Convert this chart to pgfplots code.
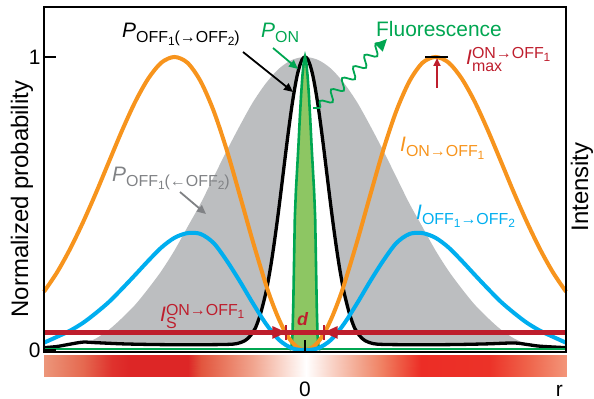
\documentclass[border=0pt]{standalone}
\usepackage{fontspec}
\setmainfont{Liberation Sans}
\usepackage{pgfplots}
\pgfplotsset{compat=1.18}
\usetikzlibrary{arrows.meta,decorations.pathmorphing}

\definecolor{cOrange}{RGB}{247,148,29}
\definecolor{cBlue}{RGB}{0,174,239}
\definecolor{cRed}{RGB}{190,30,45}
\definecolor{cGreen}{RGB}{0,166,81}
\definecolor{cLGreen}{RGB}{141,198,99}
\definecolor{cGray}{RGB}{188,190,192}
\definecolor{cGrayText}{RGB}{128,130,133}

\newcommand{\bigf}{\fontsize{21}{21}\selectfont}
\newcommand{\subf}{\fontsize{16}{16}\selectfont}
\newcommand{\ssubf}{\fontsize{12}{12}\selectfont}
\newcommand{\lo}[1]{\raisebox{-5bp}{\subf #1}}
\newcommand{\llo}[1]{\raisebox{-3bp}{\ssubf #1}}
\newcommand{\supsub}[2]{\rlap{\raisebox{-6.5bp}{\subf #2}}\raisebox{6bp}{\subf #1}}

\pgfplotstableread{
x y
-1.000 0.199
-0.950 0.265
-0.900 0.345
-0.850 0.437
-0.800 0.538
-0.750 0.645
-0.700 0.751
-0.650 0.848
-0.600 0.927
-0.550 0.981
-0.500 1.000
-0.450 0.980
-0.400 0.917
-0.350 0.816
-0.300 0.683
-0.250 0.529
-0.200 0.371
-0.150 0.224
-0.125 0.160
-0.100 0.105
-0.075 0.060
-0.050 0.027
-0.025 0.007
0.000 0.000
0.025 0.007
0.050 0.027
0.075 0.060
0.100 0.105
0.125 0.160
0.150 0.224
0.200 0.371
0.250 0.529
0.300 0.683
0.350 0.816
0.400 0.917
0.450 0.980
0.500 1.000
0.550 0.981
0.600 0.927
0.650 0.848
0.700 0.751
0.750 0.645
0.800 0.538
0.850 0.437
0.900 0.345
0.950 0.265
1.000 0.199
}\orange

\pgfplotstableread{
x y
-1.00 0.025
-0.95 0.045
-0.90 0.066
-0.85 0.093
-0.80 0.127
-0.75 0.165
-0.70 0.210
-0.65 0.257
-0.60 0.305
-0.55 0.350
-0.50 0.383
-0.45 0.399
-0.40 0.396
-0.35 0.365
-0.30 0.305
-0.25 0.235
-0.20 0.160
-0.15 0.090
-0.10 0.035
-0.05 0.006
0.00 0.000
0.05 0.006
0.10 0.035
0.15 0.090
0.20 0.160
0.25 0.235
0.30 0.305
0.35 0.365
0.40 0.396
0.45 0.399
0.50 0.383
0.55 0.350
0.60 0.305
0.65 0.257
0.70 0.210
0.75 0.165
0.80 0.127
0.85 0.093
0.90 0.066
0.95 0.045
1.00 0.025
}\blue

\pgfplotstableread{
x y
-1.00 0.000
-0.95 0.005
-0.90 0.010
-0.85 0.020
-0.80 0.040
-0.75 0.070
-0.70 0.110
-0.65 0.155
-0.60 0.210
-0.55 0.270
-0.50 0.340
-0.45 0.420
-0.40 0.500
-0.35 0.590
-0.30 0.680
-0.25 0.765
-0.20 0.845
-0.15 0.910
-0.10 0.960
-0.05 0.990
0.00 1.000
0.05 0.990
0.10 0.960
0.15 0.910
0.20 0.845
0.25 0.765
0.30 0.680
0.35 0.590
0.40 0.500
0.45 0.420
0.50 0.340
0.55 0.270
0.60 0.210
0.65 0.155
0.70 0.110
0.75 0.070
0.80 0.040
0.85 0.020
0.90 0.010
0.95 0.005
1.00 0.000
}\gray

\pgfplotstableread{
x y
-1.00 0.008
-0.95 0.012
-0.90 0.020
-0.85 0.027
-0.80 0.025
-0.70 0.021
-0.60 0.019
-0.50 0.018
-0.40 0.018
-0.30 0.019
-0.26 0.022
-0.23 0.032
-0.21 0.048
-0.19 0.075
-0.17 0.125
-0.15 0.195
-0.14 0.241
-0.13 0.293
-0.12 0.352
-0.11 0.416
-0.10 0.484
-0.09 0.556
-0.08 0.629
-0.07 0.701
-0.06 0.770
-0.05 0.834
-0.04 0.890
-0.03 0.937
-0.02 0.971
-0.01 0.993
0.00 1.000
0.01 0.993
0.02 0.971
0.03 0.937
0.04 0.890
0.05 0.834
0.06 0.770
0.07 0.701
0.08 0.629
0.09 0.556
0.10 0.484
0.11 0.416
0.12 0.352
0.13 0.293
0.14 0.241
0.15 0.195
0.17 0.125
0.19 0.075
0.21 0.048
0.23 0.032
0.26 0.022
0.30 0.019
0.40 0.018
0.50 0.018
0.60 0.019
0.70 0.021
0.80 0.024
0.85 0.019
0.90 0.013
1.00 0.008
}\black

\pgfplotstableread{
x y
-0.060 0.000
-0.052 0.012
-0.048 0.050
-0.045 0.150
-0.042 0.300
-0.039 0.450
-0.035 0.540
-0.030 0.620
-0.025 0.700
-0.020 0.790
-0.015 0.870
-0.010 0.935
-0.005 0.980
0.000 1.000
0.005 0.980
0.010 0.935
0.015 0.870
0.020 0.790
0.025 0.700
0.030 0.620
0.035 0.540
0.039 0.450
0.042 0.300
0.045 0.150
0.048 0.050
0.052 0.012
0.060 0.000
}\pon

\pgfplotstableread{
x y z
-1.00 0 0
-0.85 0 0
-0.74 0 0
-0.67 0 0
-0.45 0 0
-0.40 0 0
-0.30 0 0
-0.20 0 0
-0.10 0 0
0.00 0 0
0.10 0 0
0.20 0 0
0.29 0 0
0.36 0 0
0.44 0 0
0.70 0 0
0.85 0 0
1.00 0 0
-1.00 1 0
-0.85 1 0
-0.74 1 0
-0.67 1 0
-0.45 1 0
-0.40 1 0
-0.30 1 0
-0.20 1 0
-0.10 1 0
0.00 1 0
0.10 1 0
0.20 1 0
0.29 1 0
0.36 1 0
0.44 1 0
0.70 1 0
0.85 1 0
1.00 1 0
}\cbar

\begin{document}
\begin{tikzpicture}
\useasboundingbox (0bp,0bp) rectangle (594bp,399bp);
\begin{axis}[
  at={(44bp,47bp)}, anchor=south west,
  width=522bp, height=345bp, scale only axis,
  xmin=-1, xmax=1, ymin=-0.0068, ymax=1.1706,
  axis on top,
  axis line style={line width=1.6bp},
  xtick={0}, ytick={0,1},
  tick align=inside, xtick pos=bottom, ytick pos=left,
  major tick length=12bp,
  tick style={line width=1.6bp, black},
  /pgf/number format/assume math mode=true,
  ticklabel style={font=\fontsize{21}{21}\selectfont},
  xticklabel style={anchor=base, yshift=-44bp},
  extra x ticks={0.975}, extra x tick labels={r},
  extra x tick style={major tick length=0pt},
  clip=false,
]
\addplot[fill=cGray, draw=none, smooth] table {\gray} \closedcycle;
\addplot[fill=white, draw=none, smooth] table {\black} \closedcycle;
\addplot[black, line width=3.3bp, smooth] table {\black};
\addplot[fill=cLGreen, draw=none] table {\pon} \closedcycle;
\addplot[cGreen, line width=2.2bp] coordinates {(-1,0.003) (-0.06,0.003)};
\addplot[cGreen, line width=2.2bp] coordinates {(0.06,0.003) (1,0.003)};
\addplot[cGreen, line width=2.6bp] table {\pon};
\addplot[cOrange, line width=4bp, smooth] table {\orange};
\addplot[cBlue, line width=4bp, smooth] table {\blue};
\addplot[cRed, line width=4.5bp] coordinates {(-1,0.06) (1,0.06)};
% d marker
\draw[cRed, line width=2.5bp] (axis cs:-0.072,0.035) -- (axis cs:-0.072,0.085);
\draw[cRed, line width=2.5bp] (axis cs:0.072,0.035) -- (axis cs:0.072,0.085);
\fill[cRed] (axis cs:-0.125,0.082) -- (axis cs:-0.072,0.06) -- (axis cs:-0.125,0.038) -- cycle;
\fill[cRed] (axis cs:0.125,0.082) -- (axis cs:0.072,0.06) -- (axis cs:0.125,0.038) -- cycle;
% I max marker
\draw[black, line width=2.2bp] (axis cs:0.46,1) -- (axis cs:0.548,1);
\end{axis}
\begin{axis}[
  at={(44bp,22bp)}, anchor=south west,
  width=523bp, height=22bp, scale only axis, hide axis,
  xmin=-1, xmax=1, ymin=0, ymax=1, zmin=-1, zmax=1, view={0}{90},
  colormap={cb}{rgb255(0cm)=(236,150,122) rgb255(1.5cm)=(229,105,80)
    rgb255(2.6cm)=(223,50,45) rgb255(3.3cm)=(221,38,38) rgb255(5.5cm)=(221,38,38)
    rgb255(6cm)=(226,85,62) rgb255(7cm)=(234,125,100) rgb255(8cm)=(241,165,143)
    rgb255(9cm)=(249,210,198) rgb255(10cm)=(255,255,255) rgb255(11cm)=(249,210,198)
    rgb255(12cm)=(243,168,145) rgb255(12.9cm)=(240,130,100) rgb255(13.6cm)=(238,90,68)
    rgb255(14.4cm)=(236,45,38) rgb255(17cm)=(236,50,40) rgb255(18.5cm)=(239,100,75)
    rgb255(20cm)=(243,150,122)},
  point meta min=-1, point meta max=1,
]
\addplot3[surf, shader=interp, point meta=x, mesh/rows=2, mesh/cols=18] table {\cbar};
\end{axis}
% labels
\node[anchor=base west, inner sep=0] at (122bp,361bp) {\bigf\textit{P}\lo{OFF\llo{1}(→OFF\llo{2})}};
\draw[black, line width=1.8bp, -{Triangle[length=9bp,width=8bp]}] (243bp,347bp) -- (293bp,307bp);
\node[anchor=base west, inner sep=0, text=cGreen] at (261bp,361bp) {\bigf\textit{P}\lo{ON}};
\draw[cGreen, line width=1.8bp, -{Triangle[length=9bp,width=8bp]}] (273bp,351bp) -- (298bp,330bp);
\node[anchor=base west, inner sep=0, text=cGreen] at (376bp,362bp) {\bigf Fluorescence};
\draw[cGreen, line width=1.8bp] (313bp,291bp) -- (320bp,291bp);
\draw[cGreen, line width=1.8bp, decorate, decoration={snake, amplitude=5bp, segment length=16bp, post length=6bp}, -{Triangle[length=12bp,width=11bp]}] (320bp,291bp) -- (387bp,360bp);
\node[anchor=base west, inner sep=0, text=cRed] at (466bp,334bp) {\bigf\textit{I}\supsub{ON→OFF\llo{1}}{max}};
\draw[cRed, line width=2bp, -{Triangle[length=8bp,width=7bp]}] (437bp,311bp) -- (437bp,341bp);
\node[anchor=base west, inner sep=0, text=cOrange] at (400bp,247bp) {\bigf\textit{I}\lo{ON→OFF\llo{1}}};
\node[anchor=base west, inner sep=0, text=cBlue] at (416bp,179bp) {\bigf\textit{I}\lo{OFF\llo{1}→OFF\llo{2}}};
\node[anchor=base west, inner sep=0, text=cGrayText] at (112bp,217bp) {\bigf\textit{P}\lo{OFF\llo{1}(←OFF\llo{2})}};
\draw[cGrayText, line width=1.8bp, -{Triangle[length=9bp,width=8bp]}] (180bp,207bp) -- (206bp,185bp);
\node[anchor=base west, inner sep=0, text=cRed] at (160bp,77bp) {\bigf\textit{I}\supsub{ON→OFF\llo{1}}{S}};
\node[anchor=base west, inner sep=0, text=cRed] at (297bp,73bp) {\fontsize{18}{18}\selectfont\bfseries\itshape d};
\node[rotate=90, inner sep=0] at (22bp,200bp) {\fontsize{24}{24}\selectfont Normalized probability};
\node[rotate=90, inner sep=0] at (582bp,212bp) {\fontsize{24}{24}\selectfont Intensity};
\end{tikzpicture}
\end{document}
